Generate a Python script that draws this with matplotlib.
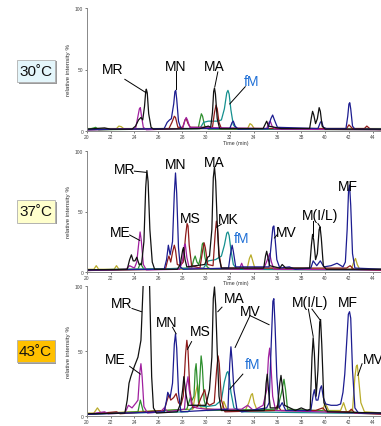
import matplotlib
matplotlib.use("Agg")
import matplotlib.pyplot as plt
from matplotlib.patches import Rectangle

plt.rcParams['font.family'] = ['Liberation Sans', 'DejaVu Sans']

# chromatogram traces, (time min, relative intensity %)
# ---- 30 C ----
black_30 = [(20, 1.5), (21.5, 2.5), (22, 1.5), (23.8, 1.5), (24.1, 4), (24.35, 9), (24.55, 11), (24.7, 9),
            (24.85, 20), (24.95, 32), (25.0, 34), (25.08, 31), (25.2, 14), (25.4, 3), (25.6, 1.5),
            (29.5, 2), (30.2, 4), (30.4, 3), (30.55, 15), (30.65, 32), (30.72, 35), (30.8, 30), (30.95, 10),
            (31.15, 2), (34.8, 2), (35.0, 6), (35.1, 8), (35.25, 4), (36.3, 2), (38.7, 2), (38.85, 11),
            (38.95, 16), (39.05, 13), (39.2, 6), (39.35, 10), (39.5, 19), (39.6, 16), (39.75, 4), (40, 1.5),
            (45, 1.5)]
navy_30 = [(20, 1), (26.5, 2), (26.75, 7), (26.95, 9), (27.1, 10), (27.3, 22), (27.4, 32), (27.47, 33),
           (27.55, 26), (27.7, 8), (27.9, 2), (32.0, 2), (32.2, 7), (32.3, 8), (32.45, 4), (32.7, 1.5),
           (35.2, 2), (35.45, 10), (35.6, 13), (35.75, 9), (36.0, 3), (39.4, 2), (39.6, 7), (39.7, 8),
           (39.85, 3), (40.1, 2), (41.75, 2), (41.9, 12), (42.0, 22), (42.07, 23), (42.15, 18), (42.3, 4),
           (42.5, 1.5), (45, 1.5)]
purple_30 = [(20, 1), (24.1, 2), (24.3, 12), (24.42, 18), (24.5, 19), (24.6, 12), (24.75, 3), (25, 1),
             (28.05, 2), (28.25, 9), (28.35, 11), (28.45, 9), (28.65, 3), (35.1, 2), (35.3, 7), (35.4, 8),
             (35.55, 4), (35.8, 1.5), (45, 1)]
darkred_30 = [(20, 1), (26.9, 2), (27.15, 7), (27.35, 12), (27.45, 11), (27.65, 3), (28.05, 3), (28.25, 9),
              (28.35, 10), (28.5, 6), (28.7, 3), (30.55, 3), (30.72, 15), (30.85, 21), (30.95, 18),
              (31.1, 7), (31.3, 2), (41.8, 2), (42.0, 5), (42.3, 2), (43.3, 2), (43.5, 4), (43.8, 1.5), (45, 1)]
green_30 = [(20, 1), (20.6, 2.5), (20.75, 3), (21, 1), (29.35, 2), (29.5, 9), (29.62, 14), (29.72, 12),
            (29.9, 4), (30.2, 1.5), (45, 1)]
teal_30 = [(20, 1.5), (29.5, 2), (29.8, 7), (30.2, 8), (30.6, 8), (31.0, 8), (31.3, 9), (31.55, 18),
           (31.75, 31), (31.85, 33), (31.95, 30), (32.1, 17), (32.3, 5), (32.6, 1.5), (45, 1.5)]
olive_30 = [(20, 2), (22.5, 2), (22.7, 4), (22.9, 3.5), (23.1, 2), (33.5, 2), (33.7, 6), (33.85, 5),
            (34.05, 2), (45, 2)]

# ---- 37 C ----
black_37 = [(20, 1.5), (23.4, 2), (23.6, 10), (23.75, 14), (23.9, 9), (24.05, 9), (24.2, 12), (24.4, 6),
            (24.6, 6), (24.8, 25), (24.95, 70), (25.05, 84), (25.15, 75), (25.3, 35), (25.5, 8), (25.7, 2),
            (27.6, 2), (27.85, 6), (28.05, 18), (28.12, 20), (28.25, 10), (28.4, 4), (29.9, 6), (30.15, 12),
            (30.3, 13), (30.5, 35), (30.62, 78), (30.72, 87), (30.82, 75), (30.95, 40), (31.1, 12), (31.3, 3),
            (34.85, 3), (35.0, 13), (35.1, 17), (35.2, 12), (35.35, 5), (36.2, 3), (36.4, 6), (36.7, 3),
            (38.7, 3), (38.85, 22), (38.95, 31), (39.05, 26), (39.2, 10), (39.35, 15), (39.5, 35),
            (39.58, 37), (39.68, 28), (39.85, 5), (40.1, 2), (45, 2)]
navy_37 = [(20, 1.5), (26.5, 2), (26.7, 10), (26.85, 22), (27.0, 14), (27.2, 25), (27.35, 65), (27.45, 82),
           (27.55, 65), (27.7, 20), (27.85, 4), (28.1, 2), (31.9, 3), (32.05, 14), (32.2, 22), (32.3, 17),
           (32.5, 4), (35.3, 4), (35.5, 25), (35.62, 37), (35.7, 38), (35.8, 28), (35.95, 10), (36.2, 3),
           (37, 4), (37.5, 2), (38.8, 3), (39.0, 9), (39.3, 5), (39.6, 9), (39.9, 4), (40.5, 5), (41.0, 7),
           (41.5, 4), (41.7, 8), (41.85, 35), (41.97, 68), (42.05, 72), (42.15, 55), (42.3, 15), (42.5, 3),
           (45, 2)]
purple_37 = [(20, 1), (23.3, 2), (23.6, 5), (23.8, 4), (24.0, 3), (24.2, 8), (24.38, 25), (24.48, 33),
             (24.58, 26), (24.75, 6), (25, 1.5), (27.8, 2), (28.05, 10), (28.2, 22), (28.27, 23), (28.4, 12),
             (28.6, 3), (32.8, 2), (33.0, 7), (33.2, 2), (34.8, 2), (35.0, 6), (35.2, 11), (35.35, 15),
             (35.5, 8), (35.7, 2), (45, 1.5)]
darkred_37 = [(20, 1), (26.6, 2), (26.8, 10), (26.9, 13), (27.05, 8), (27.2, 16), (27.35, 22), (27.45, 18),
              (27.6, 6), (27.85, 5), (28.1, 8), (28.3, 30), (28.42, 40), (28.5, 38), (28.6, 22), (28.8, 5),
              (29.5, 3), (29.7, 16), (29.85, 24), (29.95, 20), (30.15, 6), (30.6, 5), (30.78, 32), (30.88, 42),
              (30.98, 36), (31.1, 15), (31.3, 3), (41.8, 3), (42.1, 5), (42.4, 2), (45, 1)]
green_37 = [(20, 1), (24.3, 2), (24.5, 7), (24.8, 2), (28.8, 3), (28.98, 10), (29.1, 13), (29.25, 8),
            (29.4, 6), (29.55, 12), (29.7, 23), (29.78, 24), (29.9, 13), (30.1, 4), (30.4, 2), (45, 1.5)]
teal_37 = [(20, 1.5), (29.8, 3), (30.2, 9), (30.8, 10), (31.3, 13), (31.55, 22), (31.75, 32), (31.85, 33),
           (31.95, 30), (32.1, 18), (32.3, 6), (32.6, 2), (45, 1.5)]
olive_37 = [(20, 2), (20.6, 2), (20.8, 5), (21, 2), (22.3, 2), (22.5, 5), (22.7, 2), (33.45, 2), (33.65, 11),
            (33.78, 14), (33.9, 10), (34.1, 3), (42.2, 2), (42.4, 8), (42.55, 11), (42.7, 6), (42.9, 2), (45, 2)]

# ---- 43 C ----
black_43 = [(20, 1.5), (23.2, 2), (23.4, 12), (23.55, 25), (23.7, 30), (24.0, 38), (24.3, 45), (24.55, 58),
            (24.8, 115), (25.05, 130), (25.25, 110), (25.45, 30), (25.6, 6), (25.85, 2), (27.6, 3), (27.9, 10),
            (28.05, 20), (28.15, 30), (28.3, 18), (28.5, 8), (30.0, 8), (30.3, 20), (30.5, 45), (30.62, 90),
            (30.72, 99), (30.82, 85), (30.95, 50), (31.1, 15), (31.3, 4), (33.0, 4), (34.9, 4), (35.05, 25),
            (35.15, 32), (35.25, 20), (35.4, 6), (36.0, 6), (36.2, 25), (36.3, 31), (36.42, 22), (36.6, 8),
            (37.5, 4), (38.0, 6), (38.5, 4), (38.75, 5), (38.9, 45), (39.0, 60), (39.1, 48), (39.25, 15),
            (39.4, 35), (39.55, 72), (39.62, 74), (39.72, 55), (39.9, 10), (40.2, 3), (45, 2)]
navy_43 = [(20, 1), (26.5, 3), (26.7, 12), (26.8, 18), (27.0, 14), (27.2, 25), (27.35, 55), (27.45, 63),
           (27.55, 52), (27.7, 18), (27.9, 3), (31.85, 5), (32.0, 40), (32.1, 53), (32.2, 42), (32.35, 20),
           (32.6, 5), (33, 3), (35.1, 6), (35.3, 10), (35.5, 60), (35.62, 88), (35.7, 90), (35.8, 70),
           (35.95, 30), (36.15, 6), (36.4, 10), (36.7, 4), (38.8, 4), (39.0, 16), (39.1, 20), (39.25, 12),
           (39.4, 12), (39.6, 21), (39.7, 23), (39.85, 14), (40.05, 9), (40.5, 8), (41.0, 8), (41.3, 9),
           (41.5, 18), (41.65, 32), (41.8, 55), (41.95, 78), (42.05, 80), (42.15, 75), (42.3, 35), (42.5, 6),
           (42.8, 2), (45, 2)]
purple_43 = [(20, 1), (21.5, 3), (21.8, 1.5), (23.2, 2), (23.5, 8), (23.8, 6), (24.15, 10), (24.3, 12),
             (24.45, 33), (24.55, 40), (24.65, 30), (24.8, 7), (25.1, 2), (26.2, 3), (26.5, 6), (26.8, 3),
             (28.2, 5), (28.35, 22), (28.5, 30), (28.6, 20), (28.8, 8), (29.2, 6), (30.0, 5), (33.0, 5),
             (33.5, 8), (34, 4), (34.8, 8), (35.1, 20), (35.25, 45), (35.35, 52), (35.45, 40), (35.6, 15),
             (35.85, 4), (45, 1.5)]
darkred_43 = [(20, 1), (22.5, 3), (22.8, 1.5), (26.5, 4), (26.75, 12), (26.9, 16), (27.05, 12), (27.3, 14),
              (27.5, 17), (27.7, 10), (27.9, 8), (28.1, 15), (28.3, 48), (28.4, 58), (28.5, 50), (28.65, 20),
              (28.9, 6), (29.3, 7), (29.6, 14), (29.9, 20), (30.1, 10), (30.3, 8), (30.7, 10), (30.9, 35),
              (31.02, 46), (31.12, 40), (31.3, 12), (31.6, 3), (35.8, 4), (36.0, 8), (36.3, 4), (39.2, 4),
              (39.8, 6), (40.1, 3), (42.0, 3), (42.2, 5), (42.5, 2), (45, 1)]
green_43 = [(20, 1), (24.3, 3), (24.5, 12), (24.75, 3), (28.4, 5), (28.7, 14), (28.85, 12), (29.0, 15),
            (29.1, 35), (29.18, 40), (29.28, 25), (29.38, 10), (29.5, 30), (29.6, 46), (29.7, 38),
            (29.85, 12), (30.1, 4), (36.0, 5), (36.35, 18), (36.55, 28), (36.68, 20), (36.85, 5), (45, 1.5)]
teal_43 = [(20, 1.5), (28.5, 3), (29.0, 8), (30.0, 7), (30.8, 8), (31.3, 12), (31.55, 26), (31.75, 33),
           (31.85, 34), (31.95, 30), (32.1, 18), (32.35, 6), (33, 3), (45, 1.5)]
olive_43 = [(20, 2), (20.6, 2), (20.9, 6), (21.2, 2), (28.9, 5), (29.15, 18), (29.3, 24), (29.45, 10),
            (29.6, 6), (31.3, 4), (31.5, 11), (31.8, 4), (33.3, 4), (33.6, 10), (33.8, 16), (33.9, 17),
            (34.05, 10), (34.3, 4), (39.8, 4), (40.0, 10), (40.3, 4), (41.3, 4), (41.55, 10), (41.8, 3),
            (42.3, 4), (42.5, 30), (42.62, 38), (42.7, 39), (42.8, 30), (43.0, 10), (43.3, 3), (45, 2)]

temps = ["30˚C", "37˚C", "43˚C"]
box_colors = ["#e4f6fb", "#ffffcc", "#ffc000"]

# labels: (text, x, y, colour)   and leader lines: ((x0, y0), (x1, y1))
labels_30 = [("MR", 22.2, 50, "k"), ("MN", 27.45, 53, "k"), ("MA", 30.7, 53, "k"), ("fM", 33.85, 41, "#1e6fd6")]
lines_30 = [((23.2, 42), (25.0, 31)), ((27.45, 48.5), (27.45, 34)), ((31.0, 48), (30.75, 36)),
            ((33.3, 36), (32.0, 22))]
labels_37 = [("MR", 23.2, 85, "k"), ("MN", 27.45, 89.5, "k"), ("MA", 30.7, 91, "k"), ("MS", 28.7, 44.5, "k"),
             ("MK", 31.85, 44, "k"), ("ME", 22.8, 33, "k"), ("fM", 33.0, 28, "#1e6fd6"), ("MV", 36.75, 33, "k"),
             ("M(I/L)", 39.6, 47, "k"), ("MF", 41.95, 71.5, "k")]
lines_37 = [((24.0, 83.5), (25.0, 82.5)), ((31.3, 39.5), (30.9, 37)), ((23.6, 30.5), (24.45, 26)),
            ((36.0, 31), (35.75, 28)), ((39.0, 42.5), (39.0, 30)), ((39.4, 40), (39.6, 37))]
labels_43 = [("MR", 22.95, 86.5, "k"), ("ME", 22.4, 43.5, "k"), ("MN", 26.7, 72, "k"), ("MS", 29.5, 65, "k"),
             ("MA", 32.4, 90.5, "k"), ("MV", 33.7, 80.5, "k"), ("fM", 33.9, 40, "#1e6fd6"),
             ("M(I/L)", 38.7, 87.5, "k"), ("MF", 41.95, 87.5, "k"), ("MV", 44.0, 43.5, "k")]
lines_43 = [((23.8, 82.5), (24.6, 80)), ((23.6, 38), (24.5, 32)), ((27.2, 68), (27.5, 63)),
            ((28.8, 57), (28.45, 51)), ((31.35, 83.5), (31.0, 80)), ((33.7, 77), (32.45, 52.5)),
            ((33.7, 77), (35.3, 70)), ((33.1, 32), (32.0, 20.5)), ((38.6, 82), (39.0, 61)),
            ((38.9, 82), (39.55, 74)), ((43.1, 40), (42.75, 31))]

colors = {"olive": "#b9ac2a", "green": "#2e8f2e", "teal": "#15908f", "darkred": "#8f1b1b",
          "purple": "#a0209f", "navy": "#1c1c90", "black": "#111111"}

panels = [
    {"olive": olive_30, "green": green_30, "teal": teal_30, "darkred": darkred_30,
     "purple": purple_30, "navy": navy_30, "black": black_30},
    {"olive": olive_37, "green": green_37, "teal": teal_37, "darkred": darkred_37,
     "purple": purple_37, "navy": navy_37, "black": black_37},
    {"olive": olive_43, "green": green_43, "teal": teal_43, "darkred": darkred_43,
     "purple": purple_43, "navy": navy_43, "black": black_43},
]
all_labels = [labels_30, labels_37, labels_43]
all_lines = [lines_30, lines_37, lines_43]

fig = plt.figure(figsize=(3.81, 4.27), dpi=100)

W, H = 381.0, 427.0
# (bottom px of x axis, top px of y axis)
axes_px = [(132, 9), (272.7, 152.3), (416.7, 286.7)]
box_px = [(17, 60.5, 38, 22.5), (17, 201, 38, 22.5), (16.5, 340.5, 38, 22.5)]

for i, panel in enumerate(panels):
    y0, y1 = axes_px[i]
    ax = fig.add_axes([86.7 / W, 1 - y0 / H, 25 * 11.92 / W, (y0 - y1) / H])
    for name, pts in panel.items():
        ax.plot([p[0] for p in pts], [p[1] for p in pts], color=colors[name], lw=0.9)
    ax.set_xlim(20, 45)
    ax.set_ylim(0, 100)
    ax.set_xticks(range(20, 46, 2))
    ax.set_yticks([0, 50, 100])
    ax.tick_params(labelsize=3.5, length=1.5, width=0.5, pad=1, colors="#444444")
    for s in ["top", "right"]:
        ax.spines[s].set_visible(False)
    for s in ["left", "bottom"]:
        ax.spines[s].set_color("#888888")
        ax.spines[s].set_linewidth(0.7)
    ax.set_ylabel("relative intensity %", fontsize=4.5, labelpad=3, color="#333333")
    ax.set_xlabel("Time (min)", fontsize=3.8, labelpad=1.5, color="#333333")
    ax.xaxis.set_label_coords(0.5, -0.07)

    for txt, x, y, c in all_labels[i]:
        ax.text(x, y, txt, fontsize=10, color=c, ha="center", va="center", clip_on=False)
    for (xa, ya), (xb, yb) in all_lines[i]:
        ax.plot([xa, xb], [ya, yb], color="k", lw=0.7, clip_on=False)

    # temperature box
    bx, by, bw, bh = box_px[i]
    fig.patches.append(Rectangle(((bx + 1.5) / W, 1 - (by + bh + 1.5) / H), bw / W, bh / H,
                                 transform=fig.transFigure, facecolor="#9a9a9a", edgecolor="none"))
    fig.patches.append(Rectangle((bx / W, 1 - (by + bh) / H), bw / W, bh / H,
                                 transform=fig.transFigure, facecolor=box_colors[i],
                                 edgecolor="#b0b0b0", linewidth=0.6))
    fig.text((bx + bw / 2) / W, 1 - (by + bh / 2) / H, temps[i], fontsize=11,
             ha="center", va="center", color="#111111")

fig.savefig("out.png", dpi=100)
